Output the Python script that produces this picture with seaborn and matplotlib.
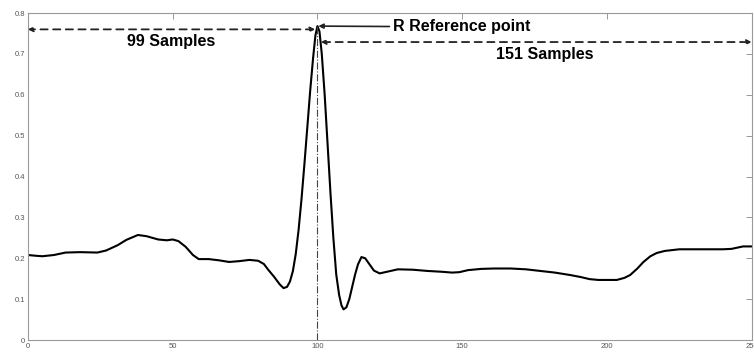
import matplotlib.pyplot as plt
import pandas as pd
import seaborn as sns

# samples
sample = [0, 3, 5, 9, 13, 18, 24, 27, 31, 34, 38, 41, 45, 48, 50, 52, 54.5, 57, 59, 62.5, 66, 69.5,
          73, 76.5, 79.5, 81.5, 83, 85, 87, 88.3, 89.5, 90.5, 91.5, 92.5, 93.5, 94.5, 95.5, 96.5,
          97.5, 98.5, 99.3, 100, 100.7, 101.5, 102.5, 103.5, 104.5, 105.5, 106.5, 107.5, 108.3,
          109, 110, 111, 112, 113, 114, 115.2, 116.5, 118, 119.5, 121.5, 124, 127.8, 133, 138,
          143, 146.5, 149, 152, 156.5, 161, 166.7, 172, 177, 182, 187.3, 191, 194, 197, 200,
          203.4, 206, 208, 210.5, 212.6, 215, 217.2, 220, 225, 230, 235, 240, 243, 245, 247, 250]
amplitude = [0.208, 0.206, 0.205, 0.208, 0.214, 0.215, 0.214, 0.219, 0.232, 0.245, 0.257, 0.254,
             0.246, 0.244, 0.246, 0.242, 0.228, 0.208, 0.198, 0.198, 0.195, 0.191, 0.193, 0.196,
             0.194, 0.186, 0.172, 0.155, 0.136, 0.127, 0.13, 0.143, 0.168, 0.21, 0.27, 0.345,
             0.43, 0.52, 0.61, 0.69, 0.745, 0.768, 0.755, 0.7, 0.6, 0.48, 0.36, 0.25, 0.16, 0.11,
             0.085, 0.075, 0.08, 0.1, 0.13, 0.16, 0.185, 0.203, 0.2, 0.185, 0.17, 0.163, 0.167,
             0.173, 0.172, 0.169, 0.167, 0.165, 0.166, 0.171, 0.174, 0.175, 0.175, 0.173, 0.169,
             0.165, 0.159, 0.154, 0.149, 0.147, 0.147, 0.147, 0.152, 0.159, 0.175, 0.191, 0.205,
             0.213, 0.218, 0.222, 0.222, 0.222, 0.222, 0.223, 0.226, 0.229, 0.229]

r_peak = 100
r_value = 0.768
left_count = 99
right_count = 151

df = pd.DataFrame({'sample': sample, 'amplitude': amplitude})

sns.set_style("white")
plt.rcParams['font.family'] = ['Liberation Sans', 'DejaVu Sans']

fig = plt.figure(figsize=(7.54, 3.52), dpi=100)
ax = fig.add_axes([0.037, 0.034, 0.960, 0.929])

sns.lineplot(data=df, x='sample', y='amplitude', color='black', lw=1.5, ax=ax)

# R peak marker line
ax.plot([r_peak, r_peak], [0, r_value], color='#444444', lw=0.8, ls='-.')

# 99 samples arrow
ax.annotate('', xy=(0, 0.76), xytext=(r_peak - 0.8, 0.76),
            arrowprops=dict(arrowstyle='<|-|>', ls=(0, (4, 3)), color='#222222', lw=1.3,
                            mutation_scale=7, shrinkA=0, shrinkB=0))
ax.text(49.5, 0.73, f'{left_count} Samples', ha='center', va='center',
        fontsize=11.5, fontweight='bold', color='black')

# 151 samples arrow
ax.annotate('', xy=(250, 0.729), xytext=(r_peak + 1.2, 0.729),
            arrowprops=dict(arrowstyle='<|-|>', ls=(0, (4, 3)), color='#222222', lw=1.3,
                            mutation_scale=7, shrinkA=0, shrinkB=0))
ax.text(178.5, 0.698, f'{right_count} Samples', ha='center', va='center',
        fontsize=11.5, fontweight='bold', color='black')

# R reference point
ax.annotate('R Reference point', xy=(r_peak + 0.3, 0.768), xytext=(126, 0.766),
            ha='left', va='center', fontsize=11.5, fontweight='bold', color='black',
            arrowprops=dict(arrowstyle='-|>', color='#222222', lw=1.2,
                            mutation_scale=7, shrinkA=0, shrinkB=0))

ax.set_xlim(0, 250)
ax.set_ylim(0, 0.8)
ax.set_xticks(range(0, 251, 50))
ax.set_yticks([i / 10 for i in range(9)])
ax.set_yticklabels(['0'] + [f'{i / 10:g}' for i in range(1, 9)])
ax.set_xlabel('')
ax.set_ylabel('')
ax.tick_params(direction='in', length=4, width=0.6, colors='#888888', labelsize=5.5,
               labelcolor='#555555', top=True, right=True, pad=2)
for s in ax.spines.values():
    s.set_color('#999999')
    s.set_linewidth(0.8)

plt.savefig('out.png', dpi=100)
